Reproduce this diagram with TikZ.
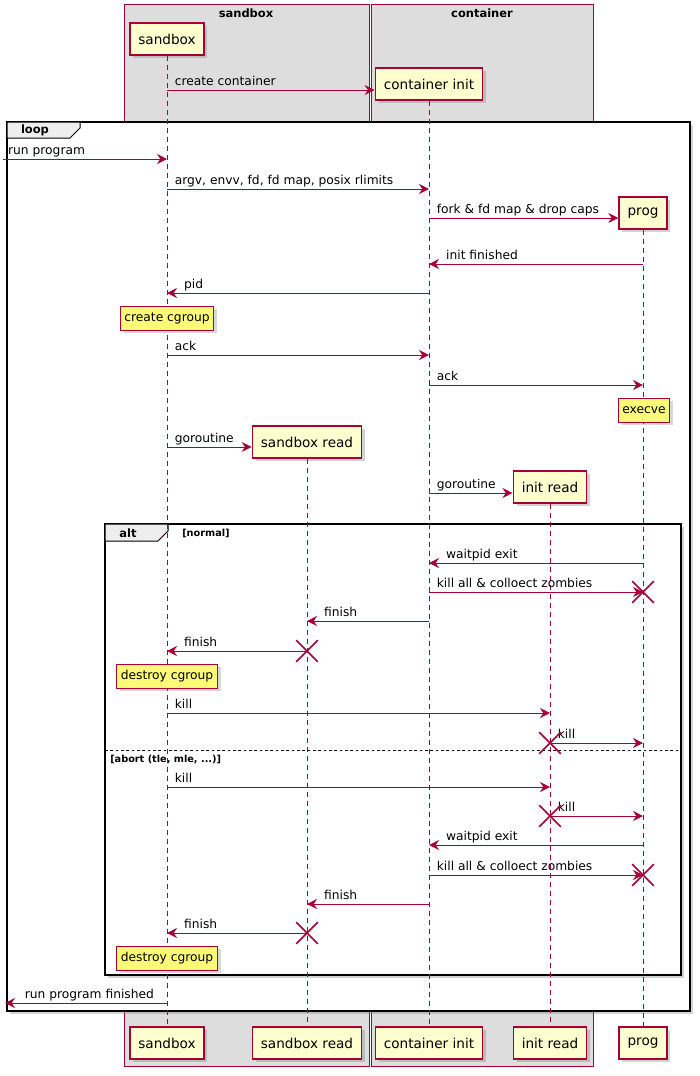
\documentclass[tikz,border=0pt]{standalone}
\usepackage{fontspec}
\setmainfont{DejaVu Sans}
\usepackage{tikz}
\usetikzlibrary{arrows.meta,shadows,shapes.misc}

\definecolor{umlred}{HTML}{A80036}
\definecolor{umlhead}{HTML}{FEFECE}
\definecolor{umlnote}{HTML}{FBFB77}
\definecolor{umlbox}{HTML}{DDDDDD}
\definecolor{umltab}{HTML}{EEEEEE}

\tikzset{
  headbox/.style={draw=umlred, fill=umlhead, line width=1.1pt, minimum height=24pt,
    inner xsep=6.4pt, inner ysep=0pt, font=\fontsize{10.2}{12}\selectfont,
    drop shadow={shadow xshift=2.5pt, shadow yshift=-2.5pt, opacity=0.35}},
  notebox/.style={draw=umlred, fill=umlnote, line width=0.75pt, minimum height=18pt,
    inner xsep=3pt, inner ysep=0pt, font=\fontsize{9.2}{11}\selectfont,
    drop shadow={shadow xshift=2.5pt, shadow yshift=-2.5pt, opacity=0.3}},
  lifeline/.style={umlred, line width=0.75pt, dash pattern=on 3.75pt off 3pt},
  msg/.style={umlred, line width=0.75pt, -{Stealth[length=7.5pt, width=7.5pt, inset=2.5pt]}},
  lbl/.style={text=black, font=\fontsize{9.2}{11}\selectfont, inner sep=0pt, anchor=base west, yshift=3.75pt},
  fromleft/.style={lbl, pos=0, xshift=5.5pt},
  fromright/.style={lbl, pos=1, xshift=12.5pt},
  fragment/.style={draw=black, line width=1.5pt, fill=white,
    drop shadow={shadow xshift=2.5pt, shadow yshift=-2.5pt, opacity=0.35}},
  tab/.style={draw=black, line width=0.75pt, fill=umltab},
  bold/.style={font=\fontsize{8.6}{10}\bfseries\selectfont, inner sep=0pt},
  guard/.style={font=\fontsize{7.3}{9}\bfseries\selectfont, inner sep=0pt, anchor=west},
  destroy/.style={draw=umlred, cross out, line width=1.2pt, minimum size=15pt, inner sep=0pt},
}

\begin{document}
\begin{tikzpicture}[x=0.75pt, y=-0.75pt]
  \useasboundingbox (0,0) rectangle (700,1076);

  % participant boxes
  \draw[umlred, fill=umlbox, line width=0.75pt] (124,4) rectangle (369,1066);
  \draw[umlred, fill=umlbox, line width=0.75pt] (371,4) rectangle (593,1066);
  \node[bold] (tsb) at (246,13) {sandbox};
  \node[bold] (tct) at (482,13) {container};

  % loop and alt frames
  \draw[fragment] (7,122) rectangle (690,1011);
  \draw[tab] (7,122) -- (80,122) -- (80,128) -- (70,138) -- (7,138) -- cycle;
  \node[bold] (tloop) at (35,130) {loop};
  \draw[fragment] (105,524) rectangle (681,975);
  \draw[tab] (105,524) -- (168,524) -- (168,531) -- (158,541) -- (105,541) -- cycle;
  \node[bold] (talt) at (128,533) {alt};
  \node[guard] (gnormal) at (182,533) {[normal]};
  \draw[black, line width=0.75pt, dash pattern=on 2pt off 2pt] (105,750) -- (681,750);
  \node[guard] (gabort) at (110,759) {[abort (tle, mle, ...)]};

  % heads
  \node[headbox] (sb) at (167,39) {sandbox};
  \node[headbox] (ci) at (429,84) {container init};
  \node[headbox] (pg) at (643,213) {prog};
  \node[headbox] (sbr) at (307,442) {sandbox read};
  \node[headbox] (ir) at (550,487) {init read};
  \node[headbox] (sbB) at (167,1043) {sandbox};
  \node[headbox] (sbrB) at (307,1043) {sandbox read};
  \node[headbox] (ciB) at (429,1043) {container init};
  \node[headbox] (irB) at (550,1043) {init read};
  \node[headbox] (pgB) at (643,1043) {prog};

  % lifelines
  \foreach \p in {sb,sbr,ci,ir,pg}
    \draw[lifeline] (\p.south) -- (\p B.north);

  \coordinate (entry) at (3,159);
  \coordinate (exit) at (5,1003);

  % messages
  \draw[msg] (sb |- 0,90) -- (ci.west |- 0,90) node[fromleft] (m1) {create container};
  \draw[msg] (entry) -- (sb |- entry) node[fromleft, xshift=-2pt] (m2) {run program};
  \draw[msg] (sb |- 0,189) -- (ci |- 0,189) node[fromleft] (m3) {argv, envv, fd, fd map, posix rlimits};
  \draw[msg] (ci |- 0,218) -- (pg.west |- 0,218) node[fromleft] (m4) {fork \& fd map \& drop caps};
  \draw[msg] (pg |- 0,264) -- (ci |- 0,264) node[fromright] (m5) {init finished};
  \draw[msg] (ci |- 0,293) -- (sb |- 0,293) node[fromright] (m6) {pid};
  \draw[msg] (sb |- 0,355) -- (ci |- 0,355) node[fromleft] (m7) {ack};
  \draw[msg] (ci |- 0,385) -- (pg |- 0,385) node[fromleft] (m8) {ack};
  \draw[msg] (sb |- 0,447) -- (sbr.west |- 0,447) node[fromleft] (m9) {goroutine};
  \draw[msg] (ci |- 0,493) -- (ir.west |- 0,493) node[fromleft] (m10) {goroutine};

  % normal
  \draw[msg] (pg |- 0,563) -- (ci |- 0,563) node[fromright] (m11) {waitpid exit};
  \draw[msg] (ci |- 0,592) -- (pg |- 0,592) node[fromleft] (m12) {kill all \& colloect zombies};
  \draw[msg] (ci |- 0,621) -- (sbr |- 0,621) node[fromright] (m13) {finish};
  \draw[msg] (sbr |- 0,651) -- (sb |- 0,651) node[fromright] (m14) {finish};
  \draw[msg] (sb |- 0,713) -- (ir |- 0,713) node[fromleft] (m15) {kill};
  \draw[msg] (ir |- 0,743) -- (pg |- 0,743) node[fromleft] (m16) {kill};

  % abort
  \draw[msg] (sb |- 0,787) -- (ir |- 0,787) node[fromleft] (m17) {kill};
  \draw[msg] (ir |- 0,816) -- (pg |- 0,816) node[fromleft] (m18) {kill};
  \draw[msg] (pg |- 0,845) -- (ci |- 0,845) node[fromright] (m19) {waitpid exit};
  \draw[msg] (ci |- 0,875) -- (pg |- 0,875) node[fromleft] (m20) {kill all \& colloect zombies};
  \draw[msg] (ci |- 0,904) -- (sbr |- 0,904) node[fromright] (m21) {finish};
  \draw[msg] (sbr |- 0,933) -- (sb |- 0,933) node[fromright] (m22) {finish};
  \draw[msg] (sb |- exit) -- (exit) node[fromright, xshift=2pt] (m23) {run program finished};

  % notes
  \node[notebox] (n1) at (167,318) {create cgroup};
  \node[notebox] (n2) at (644,410) {execve};
  \node[notebox] (n3) at (167,676) {destroy cgroup};
  \node[notebox] (n4) at (167,958) {destroy cgroup};

  % destroyed lifelines
  \node[destroy] (x1) at (pg |- 0,592) {};
  \node[destroy] (x2) at (sbr |- 0,651) {};
  \node[destroy] (x3) at (ir |- 0,743) {};
  \node[destroy] (x4) at (ir |- 0,816) {};
  \node[destroy] (x5) at (pg |- 0,875) {};
  \node[destroy] (x6) at (sbr |- 0,933) {};
\end{tikzpicture}
\end{document}
